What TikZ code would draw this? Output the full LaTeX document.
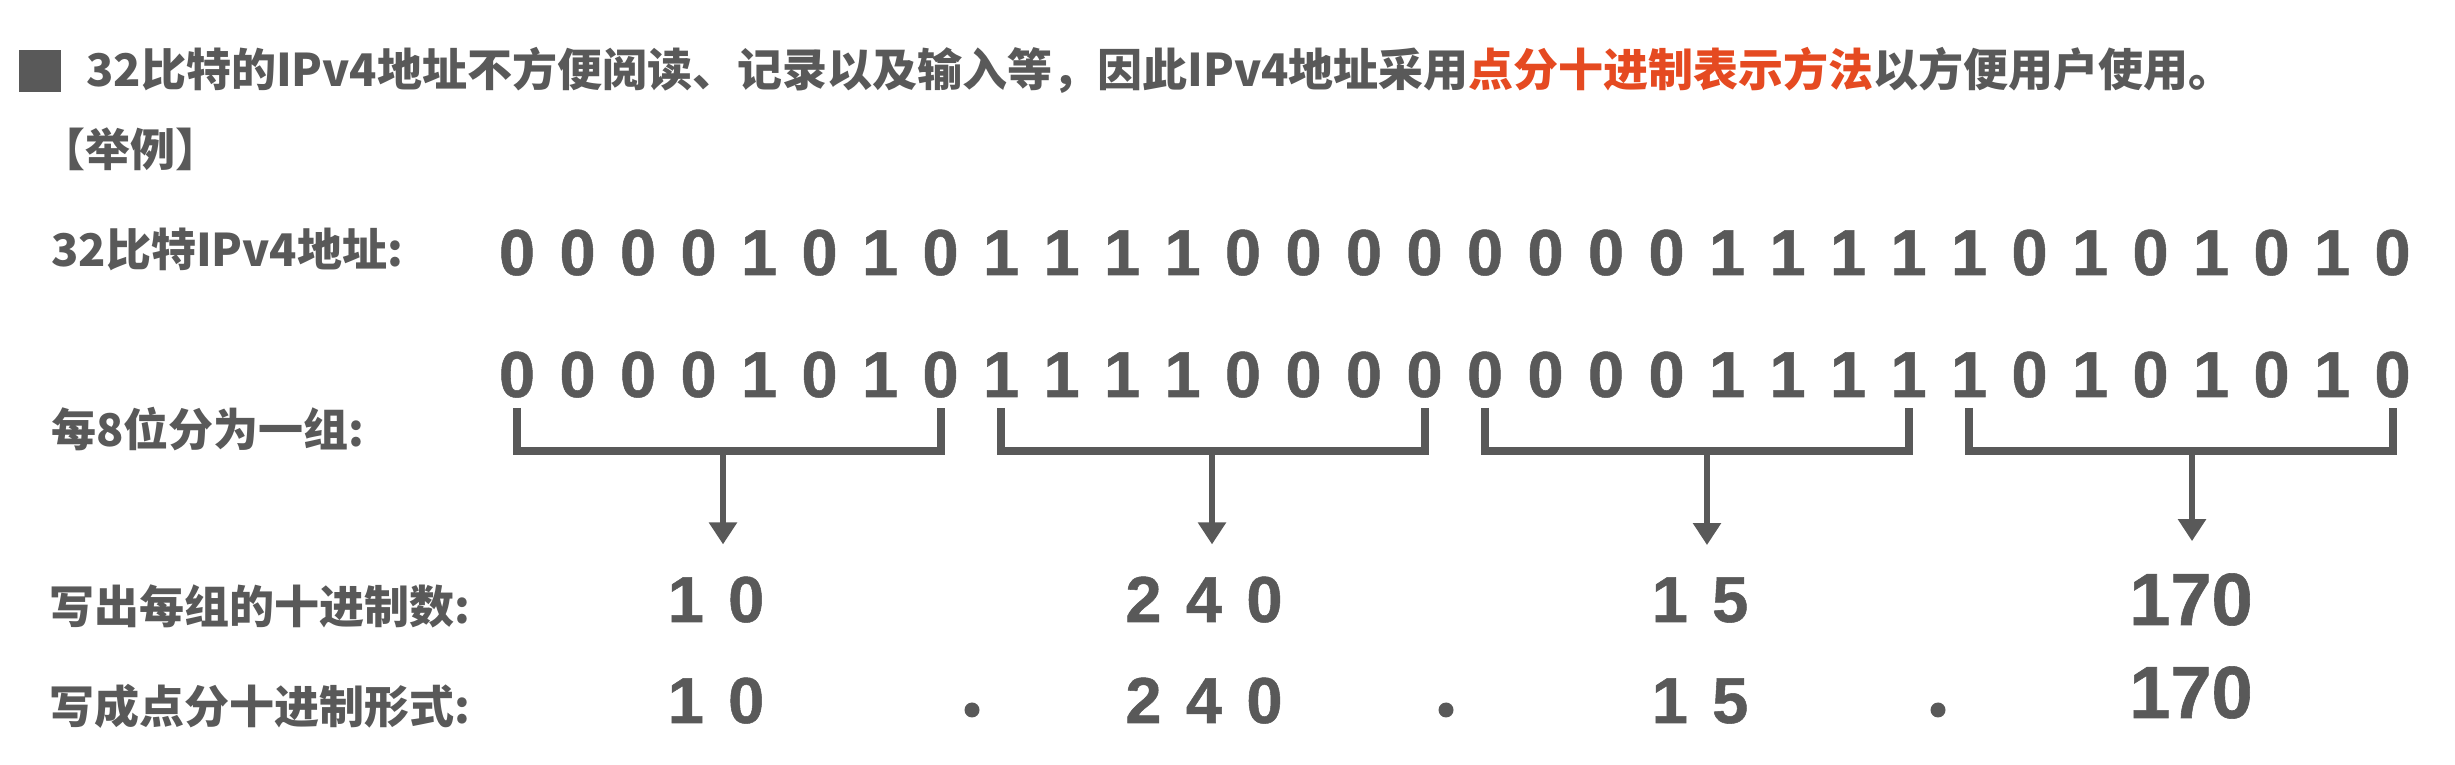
\documentclass[tikz,border=0pt]{standalone}
\usepackage{fontspec}
\setmainfont{Liberation Sans}
\newfontfamily\cjk{Noto Sans CJK SC}
\newfontfamily\digits{Liberation Sans}[FakeBold=0.8]
\usetikzlibrary{positioning,arrows.meta,calc}
\definecolor{ink}{HTML}{595959}
\definecolor{hilite}{HTML}{E54A21}
\newcommand\dg[1]{\makebox[60.5pt]{#1}}

\begin{document}
\begin{tikzpicture}[x=1pt, y=1pt,
    lbl/.style={anchor=base west, inner sep=0pt, text=ink, font=\fontsize{45}{54}\selectfont\cjk\bfseries},
    bit/.style={anchor=base, inner sep=0pt, text=ink, font=\fontsize{65}{78}\selectfont\digits\bfseries},
    dot/.style={circle, fill=ink, inner sep=0pt, minimum size=15pt},
    brk/.style={draw=ink, line width=8pt, line join=miter},
    arr/.style={draw=ink, line width=6pt, -{Triangle[width=27pt,length=22pt]}}]

    \useasboundingbox (0,0) rectangle (2455,765);

    % Heading
    \fill[ink] (19,673) rectangle (61,715);
    \node[lbl] (title) at (86,678) {32比特的IPv4地址不方便阅读、记录以及输入等，因此IPv4地址采用\textcolor{hilite}{点分十进制表示方法}以方便用户使用。};
    \node[lbl] (eg) at (40,598) {【举例】};

    % Row labels
    \node[lbl] (l1) at (51,498) {32比特IPv4地址:};
    \node[lbl] (l2) at (51,318) {每8位分为一组:};
    \node[lbl] (l3) at (49,141) {写出每组的十进制数:};
    \node[lbl] (l4) at (49,41) {写成点分十进制形式:};

    % 32 bits, twice
    \foreach \b [count=\i from 0] in {0,0,0,0,1,0,1,0,1,1,1,1,0,0,0,0,0,0,0,0,1,1,1,1,1,0,1,0,1,0,1,0} {
        \node[bit] (a\i) at (517+60.5*\i, 490) {\b};
        \node[bit] (b\i) at (517+60.5*\i, 368) {\b};
    }

    % Brackets under each byte
    \foreach \s/\e in {0/7,8/15,16/23,24/31} {
        \draw[brk] ([yshift=-11pt]b\s.base) |- ([yshift=-54pt]b\e.base) -- ([yshift=-11pt]b\e.base);
    }

    % Decimal values
    \node[bit] (d1) at (716,143) {\dg1\dg0};
    \node[bit] (d2) at (1204,143) {\dg2\dg4\dg0};
    \node[bit] (d3) at (1700,143) {\dg1\dg5};
    \node[bit, font=\fontsize{74}{88}\selectfont\digits\bfseries] (d4) at (2191,140) {170};

    % Dotted decimal form
    \node[bit] (e1) at (716,42) {\dg1\dg0};
    \node[bit] (e2) at (1204,42) {\dg2\dg4\dg0};
    \node[bit] (e3) at (1700,42) {\dg1\dg5};
    \node[bit, font=\fontsize{74}{88}\selectfont\digits\bfseries] (e4) at (2191,47) {170};
    \node[dot] (p1) at (972,55) {};
    \node[dot] (p2) at (1446,55) {};
    \node[dot] (p3) at (1938,55) {};

    % Arrows from brackets
    \foreach \g/\x in {1/723,2/1212,3/1707,4/2192} {
        \coordinate (m\g) at (\x,314);
        \draw[arr, shorten >=32pt] (m\g) -- (m\g |- d\g.north);
    }
\end{tikzpicture}
\end{document}
